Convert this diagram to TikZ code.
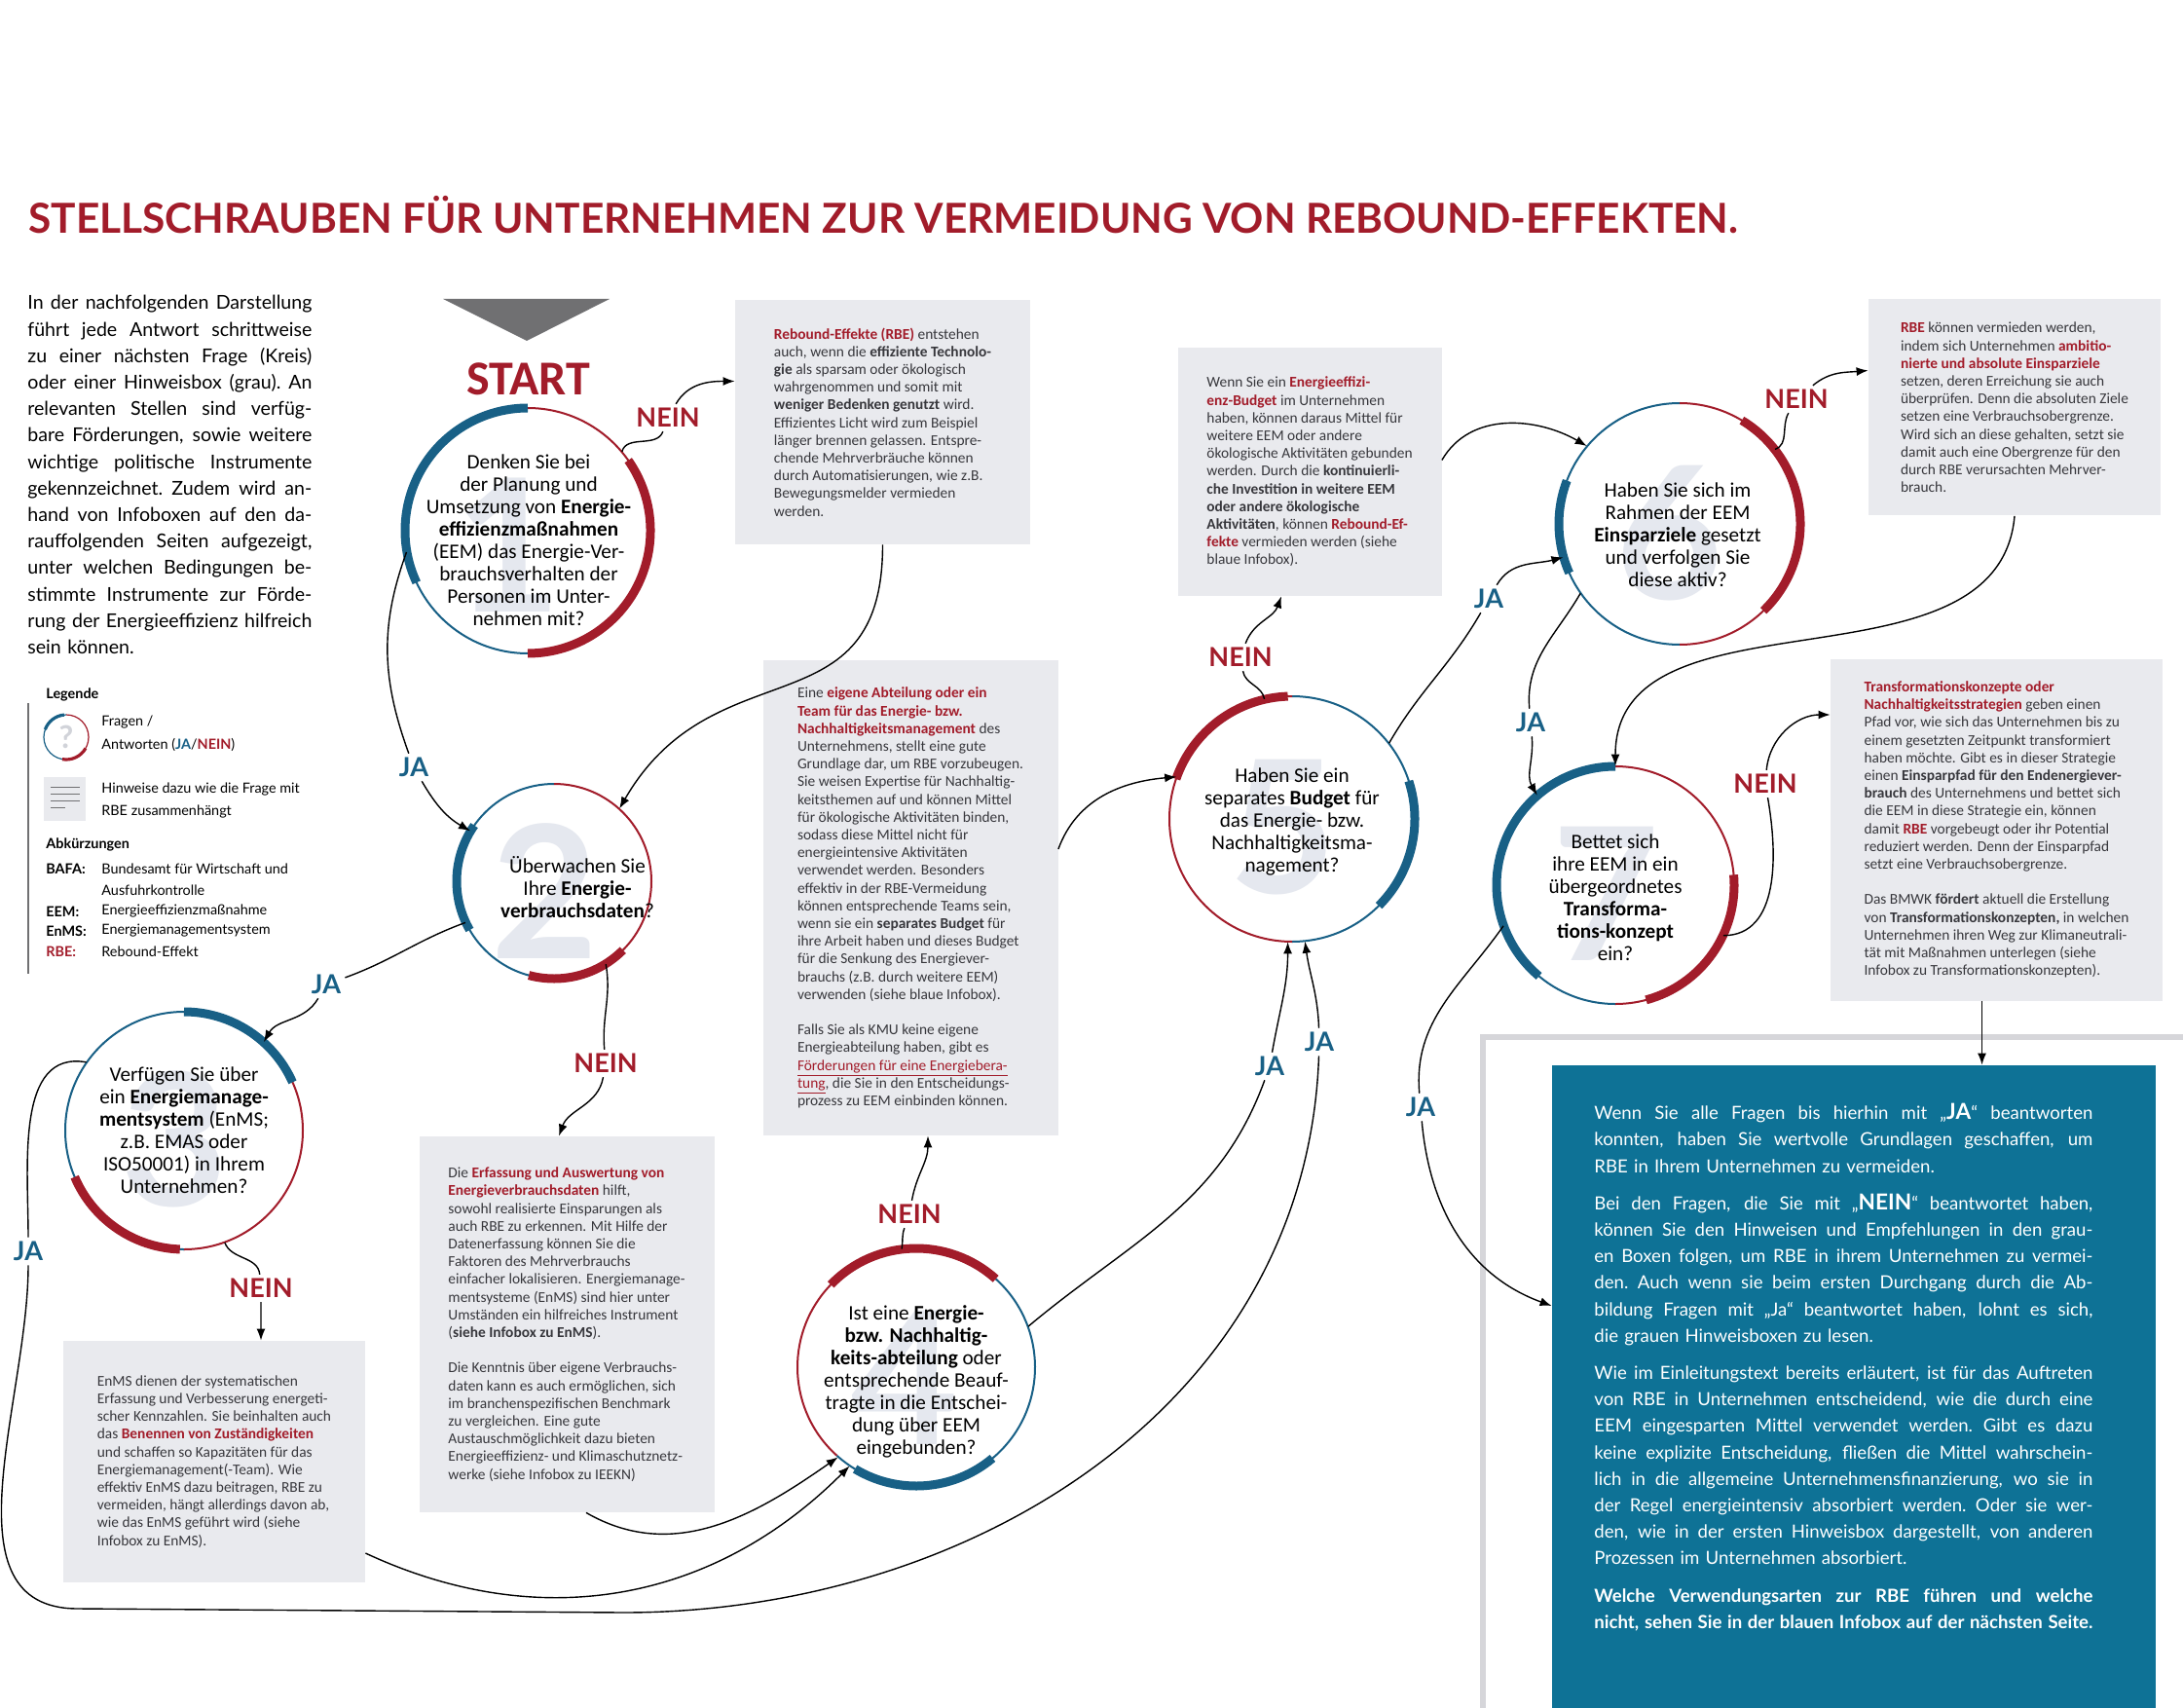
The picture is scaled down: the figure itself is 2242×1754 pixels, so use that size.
\documentclass[tikz,border=0pt]{standalone}
\usepackage{fontspec}
\setmainfont{Carlito}
\newfontfamily\lato{Lato}
\usetikzlibrary{arrows.meta,positioning,calc}
\definecolor{rd}{RGB}{162,28,42}
\definecolor{bl}{RGB}{24,96,134}
\definecolor{ib}{RGB}{14,114,150}
\definecolor{gy}{RGB}{233,234,238}
\definecolor{tx}{RGB}{55,55,60}
\definecolor{gh}{RGB}{229,232,239}
\definecolor{ar}{RGB}{112,112,114}
\definecolor{sh}{RGB}{214,214,218}
\newcommand{\RD}[1]{\textcolor{rd}{\textbf{#1}}}
\newcommand{\hintfont}{\fontsize{7.7}{9.1}\selectfont}
\newcommand{\qfont}{\fontsize{10.6}{11.5}\selectfont}
\newlength{\introw}\setlength{\introw}{146pt}
\newlength{\bluew}\setlength{\bluew}{256pt}
% justified single lines
\newcommand{\fillspace}{\spaceskip=\fontdimen2\font plus 1fil minus 0.08em\xspaceskip=\spaceskip\relax}
\newcommand{\inl}[1]{\makebox[\introw][s]{\fillspace #1}}
\newcommand{\bln}[1]{\makebox[\bluew][s]{\fillspace #1}}
% ring: node, radius, blue half start, thick blue from/to, thick red from/to
\newcommand{\qring}[7]{%
  \draw[bl,line width=1pt] (#1) ++(#3:#2) arc[start angle=#3,end angle=#3+180,radius=#2];
  \draw[rd,line width=1pt] (#1) ++(#3+180:#2) arc[start angle=#3+180,end angle=#3+360,radius=#2];
  \draw[bl,line width=4.5pt] (#1) ++(#4:#2) arc[start angle=#4,end angle=#5,radius=#2];
  \draw[rd,line width=4.5pt] (#1) ++(#6:#2) arc[start angle=#6,end angle=#7,radius=#2];
}
\tikzset{
  hintbox/.style={fill=gy,draw=none,inner sep=0pt,align=left,font=\hintfont,text=tx},
  qcirc/.style={circle,draw=none,inner sep=0pt},
  qtext/.style={align=center,font=\qfont,text=black,inner sep=0pt},
  ghost/.style={font=\lato\bfseries\fontsize{95}{95}\selectfont,text=gh,inner sep=0pt},
  ja/.style={font=\lato\bfseries\fontsize{13.5}{14}\selectfont,text=bl,inner sep=2pt},
  nein/.style={font=\lato\bfseries\fontsize{13.5}{14}\selectfont,text=rd,inner sep=2pt},
  conn/.style={-{Latex[length=6pt,width=4.5pt]},line width=0.7pt,black},
  legtext/.style={font=\lato\fontsize{7.2}{9}\selectfont,inner sep=0pt,anchor=west},
  legbold/.style={font=\lato\bfseries\fontsize{7.2}{9}\selectfont,inner sep=0pt,anchor=west}
}
\begin{document}
\begin{tikzpicture}[x=0.5pt,y=-0.5pt]
  \useasboundingbox (0,0) rectangle (2242,1754);
  \fill[white] (0,0) rectangle (2242,1754);

  % title
  \node[anchor=base west,inner sep=0pt,text=rd,font=\lato\bfseries\fontsize{21.2}{24}\selectfont] (title) at (29,240)
    {STELLSCHRAUBEN FÜR UNTERNEHMEN ZUR VERMEIDUNG VON REBOUND-EFFEKTEN.};

  % intro text
  \node[anchor=north west,inner sep=0pt,align=left,text width=\introw,font=\lato\fontsize{9.8}{13.6}\selectfont] (intro) at (28,303)
    {\inl{In der nachfolgenden Darstellung}\\
     \inl{führt jede Antwort schrittweise}\\
     \inl{zu einer nächsten Frage (Kreis)}\\
     \inl{oder einer Hinweisbox (grau). An}\\
     \inl{relevanten Stellen sind verfüg-}\\
     \inl{bare Förderungen, sowie weitere}\\
     \inl{wichtige politische Instrumente}\\
     \inl{gekennzeichnet. Zudem wird an-}\\
     \inl{hand von Infoboxen auf den da-}\\
     \inl{rauffolgenden Seiten aufgezeigt,}\\
     \inl{unter welchen Bedingungen be-}\\
     \inl{stimmte Instrumente zur Förde-}\\
     \inl{rung der Energieeffizienz hilfreich}\\
     sein können.};

  % legend
  \draw[ar,line width=0.6pt] (29,722) -- (29,1000);
  \node[legbold,anchor=base west] (legt) at (47,717) {Legende};
  \node[qcirc,minimum size=23pt] (lq) at (68,757) {};
  \node[font=\lato\bfseries\fontsize{16}{16}\selectfont,text=gh!80!gray,inner sep=0pt] (lqm) at (lq) {?};
  \draw[bl,line width=0.6pt] (lq) ++(90:23) arc[start angle=90,end angle=270,radius=23];
  \draw[rd,line width=0.6pt] (lq) ++(270:23) arc[start angle=270,end angle=450,radius=23];
  \draw[bl,line width=1.6pt] (lq) ++(200:23) arc[start angle=200,end angle=265,radius=23];
  \draw[rd,line width=1.6pt] (lq) ++(30:23) arc[start angle=30,end angle=100,radius=23];
  \node[legtext] (lf) at (104,742) {Fragen /};
  \node[legtext] (la) at (104,765) {Antworten (\textcolor{bl}{\textbf{JA}}/\textcolor{rd}{\textbf{NEIN}})};
  \node[fill=gy,minimum width=21.5pt,minimum height=22.5pt,inner sep=0pt] (li) at (66.5,820.5) {};
  \foreach \yy in {808,815,822} \draw[ar,line width=0.5pt] (52,\yy) -- (82,\yy);
  \draw[ar,line width=0.5pt] (52,829) -- (67,829);
  \node[legtext] (lh1) at (104,811) {Hinweise dazu wie die Frage mit};
  \node[legtext] (lh2) at (104,834) {RBE zusammenhängt};
  \node[legbold] (lab) at (47,867) {Abkürzungen};
  \node[legbold] (k1) at (47,892) {BAFA:};
  \node[legtext] (v1) at (104,892) {Bundesamt für Wirtschaft und};
  \node[legtext] (v1b) at (104,914) {Ausfuhrkontrolle};
  \node[legbold] (k2) at (47,936) {EEM:};
  \node[legtext] (v2) at (104,936) {Energieeffizienzmaßnahme};
  \node[legbold] (k3) at (47,956) {EnMS:};
  \node[legtext] (v3) at (104,956) {Energiemanagementsystem};
  \node[legbold,text=rd] (k4) at (47,977) {RBE:};
  \node[legtext] (v4) at (104,977) {Rebound-Effekt};

  % start
  \fill[ar] (455,307) -- (626,307) -- (541,350) -- cycle;
  \node[font=\bfseries\fontsize{25}{25}\selectfont,text=rd,inner sep=0pt] (start) at (543,389) {START};

  % white panel behind blue box
  \fill[sh] (1520,1062) rectangle (2242,1754);
  \fill[white] (1526,1068) rectangle (2242,1754);

  % hint boxes
  \node[hintbox,minimum width=151.5pt,minimum height=125.5pt] (b1) at (906.5,433.5)
    {\RD{Rebound-Effekte (RBE)} entstehen\\
     auch, wenn die \textbf{effiziente Technolo-}\\
     \textbf{gie} als sparsam oder ökologisch\\
     wahrgenommen und somit mit\\
     \textbf{weniger Bedenken genutzt} wird.\\
     Effizientes Licht wird zum Beispiel\\
     länger brennen gelassen. Entspre-\\
     chende Mehrverbräuche können\\
     durch Automatisierungen, wie z.B.\\
     Bewegungsmelder vermieden\\
     werden.};
  \node[hintbox,minimum width=151.5pt,minimum height=193pt] (b2) at (582,1360)
    {Die \RD{Erfassung und Auswertung von}\\
     \RD{Energieverbrauchsdaten} hilft,\\
     sowohl realisierte Einsparungen als\\
     auch RBE zu erkennen. Mit Hilfe der\\
     Datenerfassung können Sie die\\
     Faktoren des Mehrverbrauchs\\
     einfacher lokalisieren. Energiemanage-\\
     mentsysteme (EnMS) sind hier unter\\
     Umständen ein hilfreiches Instrument\\
     (\textbf{siehe Infobox zu EnMS}).\\[9.1pt]
     Die Kenntnis über eigene Verbrauchs-\\
     daten kann es auch ermöglichen, sich\\
     im branchenspezifischen Benchmark\\
     zu vergleichen. Eine gute\\
     Austauschmöglichkeit dazu bieten\\
     Energieeffizienz- und Klimaschutznetz-\\
     werke (siehe Infobox zu IEEKN)};
  \node[hintbox,minimum width=155pt,minimum height=124pt] (b3) at (220,1501)
    {EnMS dienen der systematischen\\
     Erfassung und Verbesserung energeti-\\
     scher Kennzahlen. Sie beinhalten auch\\
     das \RD{Benennen von Zuständigkeiten}\\
     und schaffen so Kapazitäten für das\\
     Energiemanagement(-Team). Wie\\
     effektiv EnMS dazu beitragen, RBE zu\\
     vermeiden, hängt allerdings davon ab,\\
     wie das EnMS geführt wird (siehe\\
     Infobox zu EnMS).};
  \node[hintbox,minimum width=151.5pt,minimum height=244pt] (b4) at (935,922)
    {Eine \RD{eigene Abteilung oder ein}\\
     \RD{Team für das Energie- bzw.}\\
     \RD{Nachhaltigkeitsmanagement} des\\
     Unternehmens, stellt eine gute\\
     Grundlage dar, um RBE vorzubeugen.\\
     Sie weisen Expertise für Nachhaltig-\\
     keitsthemen auf und können Mittel\\
     für ökologische Aktivitäten binden,\\
     sodass diese Mittel nicht für\\
     energieintensive Aktivitäten\\
     verwendet werden. Besonders\\
     effektiv in der RBE-Vermeidung\\
     können entsprechende Teams sein,\\
     wenn sie ein \textbf{separates Budget} für\\
     ihre Arbeit haben und dieses Budget\\
     für die Senkung des Energiever-\\
     brauchs (z.B. durch weitere EEM)\\
     verwenden (siehe blaue Infobox).\\[9.1pt]
     Falls Sie als KMU keine eigene\\
     Energieabteilung haben, gibt es\\
     \textcolor{rd}{\underline{Förderungen für eine Energiebera-}}\\
     \textcolor{rd}{\underline{tung}}, die Sie in den Entscheidungs-\\
     prozess zu EEM einbinden können.};
  \node[hintbox,minimum width=135.5pt,minimum height=127.5pt] (b5) at (1345,484.5)
    {Wenn Sie ein \RD{Energieeffizi-}\\
     \RD{enz-Budget} im Unternehmen\\
     haben, können daraus Mittel für\\
     weitere EEM oder andere\\
     ökologische Aktivitäten gebunden\\
     werden. Durch die \textbf{kontinuierli-}\\
     \textbf{che Investition in weitere EEM}\\
     \textbf{oder andere ökologische}\\
     \textbf{Aktivitäten}, können \RD{Rebound-Ef-}\\
     \RD{fekte} vermieden werden (siehe\\
     blaue Infobox).};
  \node[hintbox,minimum width=150pt,minimum height=111pt] (b6) at (2069,418.5)
    {\RD{RBE} können vermieden werden,\\
     indem sich Unternehmen \RD{ambitio-}\\
     \RD{nierte und absolute Einsparziele}\\
     setzen, deren Erreichung sie auch\\
     überprüfen. Denn die absoluten Ziele\\
     setzen eine Verbrauchsobergrenze.\\
     Wird sich an diese gehalten, setzt sie\\
     damit auch eine Obergrenze für den\\
     durch RBE verursachten Mehrver-\\
     brauch.};
  \node[hintbox,minimum width=170.5pt,minimum height=175.5pt] (b7) at (2050.5,852)
    {\RD{Transformationskonzepte oder}\\
     \RD{Nachhaltigkeitsstrategien} geben einen\\
     Pfad vor, wie sich das Unternehmen bis zu\\
     einem gesetzten Zeitpunkt transformiert\\
     haben möchte. Gibt es in dieser Strategie\\
     einen \textbf{Einsparpfad für den Endenergiever-}\\
     \textbf{brauch} des Unternehmens und bettet sich\\
     die EEM in diese Strategie ein, können\\
     damit \RD{RBE} vorgebeugt oder ihr Potential\\
     reduziert werden. Denn der Einsparpfad\\
     setzt eine Verbrauchsobergrenze.\\[9.1pt]
     Das BMWK \textbf{fördert} aktuell die Erstellung\\
     von \textbf{Transformationskonzepten,} in welchen\\
     Unternehmen ihren Weg zur Klimaneutrali-\\
     tät mit Maßnahmen unterlegen (siehe\\
     Infobox zu Transformationskonzepten).};

  % blue info box
  \node[fill=ib,draw=none,minimum width=310pt,minimum height=330pt,inner sep=0pt] (info) at (1904,1424) {};
  \node[anchor=north west,inner sep=0pt,align=left,text width=\bluew,text=white,font=\lato\fontsize{9.3}{13.6}\selectfont] (infotxt) at (1637,1133)
    {\bln{Wenn Sie alle Fragen bis hierhin mit „{\bfseries\fontsize{11.3}{13.6}\selectfont JA}“ beantworten}\\
     \bln{konnten, haben Sie wertvolle Grundlagen geschaffen, um}\\
     RBE in Ihrem Unternehmen zu vermeiden.\\[5.5pt]
     \bln{Bei den Fragen, die Sie mit „{\bfseries\fontsize{11.3}{13.6}\selectfont NEIN}“ beantwortet haben,}\\
     \bln{können Sie den Hinweisen und Empfehlungen in den grau-}\\
     \bln{en Boxen folgen, um RBE in ihrem Unternehmen zu vermei-}\\
     \bln{den. Auch wenn sie beim ersten Durchgang durch die Ab-}\\
     \bln{bildung Fragen mit „Ja“ beantwortet haben, lohnt es sich,}\\
     die grauen Hinweisboxen zu lesen.\\[5.5pt]
     \bln{Wie im Einleitungstext bereits erläutert, ist für das Auftreten}\\
     \bln{von RBE in Unternehmen entscheidend, wie die durch eine}\\
     \bln{EEM eingesparten Mittel verwendet werden. Gibt es dazu}\\
     \bln{keine explizite Entscheidung, fließen die Mittel wahrschein-}\\
     \bln{lich in die allgemeine Unternehmensfinanzierung, wo sie in}\\
     \bln{der Regel energieintensiv absorbiert werden. Oder sie wer-}\\
     \bln{den, wie in der ersten Hinweisbox dargestellt, von anderen}\\
     Prozessen im Unternehmen absorbiert.\\[5.5pt]
     {\bfseries\bln{Welche Verwendungsarten zur RBE führen und welche}}\\
     {\bfseries\bln{nicht, sehen Sie in der blauen Infobox auf der nächsten Seite.}}};

  % question circles
  \node[qcirc,minimum size=126pt] (c1) at (542,545) {};
  \node[qcirc,minimum size=100pt] (c2) at (569,905) {};
  \node[qcirc,minimum size=122pt] (c3) at (189,1161) {};
  \node[qcirc,minimum size=122pt] (c4) at (941,1404) {};
  \node[qcirc,minimum size=126pt] (c5) at (1327,841) {};
  \node[qcirc,minimum size=124pt] (c6) at (1725,538) {};
  \node[qcirc,minimum size=122pt] (c7) at (1659,909) {};

  \node[ghost] (g1) at (522,560) {1};
  \node[ghost] (g2) at (560,915) {2};
  \node[ghost] (g3) at (180,1170) {3};
  \node[ghost] (g4) at (930,1415) {4};
  \node[ghost] (g5) at (1318,850) {5};
  \node[ghost] (g6) at (1715,548) {6};
  \node[ghost] (g7) at (1650,918) {7};

  \qring{c1}{126}{90}{155}{270}{-35}{90}
  \qring{c2}{100}{90}{150}{215}{45}{105}
  \qring{c3}{122}{90}{270}{336}{92}{157}
  \qring{c4}{122}{-48}{50}{121}{224}{312}
  \qring{c5}{126}{270}{-18}{45}{199}{268}
  \qring{c6}{124}{90}{156}{201}{-59}{46}
  \qring{c7}{122}{90}{130}{270}{-5}{75}

  \node[qtext] (t1) at (543,555) {Denken Sie bei\\der Planung und\\Umsetzung von \textbf{Energie-}\\\textbf{effizienzmaßnahmen}\\(EEM) das Energie-Ver-\\brauchsverhalten der\\Personen im Unter-\\nehmen mit?};
  \node[qtext] (t2) at (593,911) {Überwachen Sie\\Ihre \textbf{Energie-}\\\textbf{verbrauchsdaten}?};
  \node[qtext] (t3) at (189,1161) {Verfügen Sie über\\ein \textbf{Energiemanage-}\\\textbf{mentsystem} (EnMS;\\z.B. EMAS oder\\ISO50001) in Ihrem\\Unternehmen?};
  \node[qtext] (t4) at (941,1419) {Ist eine \textbf{Energie-}\\\textbf{bzw. Nachhaltig-}\\\textbf{keits-abteilung} oder\\entsprechende Beauf-\\tragte in die Entschei-\\dung über EEM\\eingebunden?};
  \node[qtext] (t5) at (1327,844) {Haben Sie ein\\separates \textbf{Budget} für\\das Energie- bzw.\\Nachhaltigkeitsma-\\nagement?};
  \node[qtext] (t6) at (1723,549) {Haben Sie sich im\\Rahmen der EEM\\\textbf{Einsparziele} gesetzt\\und verfolgen Sie\\diese aktiv?};
  \node[qtext] (t7) at (1659,922) {Bettet sich\\ihre EEM in ein\\übergeordnetes\\\textbf{Transforma-}\\\textbf{tions-konzept}\\ein?};

  % answer labels
  \node[nein] (n1) at (686,429) {NEIN};
  \node[ja] (j1) at (425,788) {JA};
  \node[nein] (n2) at (622,1092) {NEIN};
  \node[ja] (j2) at (335,1011) {JA};
  \node[nein] (n3) at (268,1323) {NEIN};
  \node[ja] (j3) at (29,1285) {JA};
  \node[nein] (n4) at (934,1247) {NEIN};
  \node[ja] (j4) at (1304,1095) {JA};
  \node[ja] (j4b) at (1355,1070) {JA};
  \node[nein] (n5) at (1274,675) {NEIN};
  \node[ja] (j5) at (1529,615) {JA};
  \node[nein] (n6) at (1845,410) {NEIN};
  \node[ja] (j6) at (1572,742) {JA};
  \node[nein] (n7) at (1813,805) {NEIN};
  \node[ja] (j7) at (1459,1137) {JA};

  % connectors
  \draw[conn] (c1.40) to[out=75,in=-110] (n1) to[out=60,in=180] ([yshift=21pt]b1.west);
  \draw[conn] (c1.190) to[out=250,in=110] (j1) to[out=-60,in=150] (c2.149);
  \draw[conn] (b1.south) to[out=-90,in=60,looseness=1.3] (c2.48);
  \draw[conn] (c2.-58) to[out=-80,in=95] (n2) to[out=-100,in=70] ([xshift=-4pt]b2.north);
  \draw[conn] (c2.205) to[out=200,in=20] (j2) to[out=-120,in=60] (c3.48);
  \draw[conn] (c3.-70) to[out=-70,in=95] (n3) to[out=-90,in=90] ([xshift=24pt]b3.north);
  \draw[conn] (c3.145) to[out=170,in=90] (j3) to[out=-90,in=180] (80,1652) -- (640,1656) to[out=0,in=-92] (j4b) to[out=92,in=-82] (c5.-84);
  \draw[conn] ([yshift=-47pt]b3.east) to[out=-25,in=225] (c4.236);
  \draw[conn] ([xshift=10pt]b2.south) to[out=-30,in=215] (c4.229);
  \draw[conn] (c4.97) to[out=80,in=-110] (n4) to[out=80,in=-90] ([xshift=9pt]b4.south);
  \draw[conn] (c4.20) to[out=40,in=-110] (j4) to[out=80,in=-90] (c5.-92);
  \draw[conn] ([yshift=25pt]b4.east) to[out=70,in=185] (c5.160);
  \draw[conn] (c5.103) to[out=100,in=-80] (n5) to[out=70,in=-110] ([xshift=-14.5pt]b5.south);
  \draw[conn] (c5.38) to[out=60,in=-120] (j5) to[out=60,in=195] (c6.196);
  \draw[conn] ([yshift=6pt]b5.east) to[out=60,in=150] (c6.140);
  \draw[conn] (c6.38) to[out=20,in=-120] (n6) to[out=40,in=185] ([yshift=19pt]b6.west);
  \draw[conn] (c6.215) to[out=240,in=95] (j6) to[out=-85,in=120] (c7.131);
  \draw[conn] (b6.south) to[out=-95,in=90] (c7.90);
  \draw[conn] (c7.-25) to[out=0,in=-80] (n7) to[out=85,in=180] ([yshift=59pt]b7.west);
  \draw[conn] (c7.200) to[out=235,in=95] (j7) to[out=-85,in=160] ([yshift=41.5pt]info.west);
  \draw[conn] ([xshift=-7.5pt]b7.south) -- ([xshift=-7.5pt]b7.south |- info.north);
\end{tikzpicture}
\end{document}
